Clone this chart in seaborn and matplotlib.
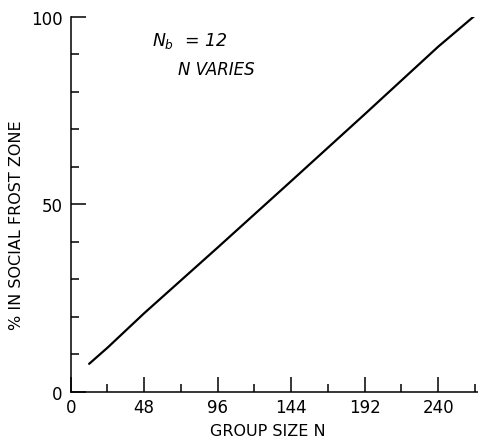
import matplotlib
matplotlib.use("Agg")
import matplotlib.pyplot as plt
import seaborn as sns
import pandas as pd
from matplotlib.ticker import MultipleLocator

# Data
group_size = [12, 24, 48, 96, 144, 192, 240, 264]
pct_frost = [7.5, 11.8, 21.0, 38.5, 56.2, 74.0, 92.0, 100.3]
x_ticks = [0, 48, 96, 144, 192, 240]
y_ticks = [0, 50, 100]

sns.set_style("ticks")
plt.rcParams['font.family'] = ['DejaVu Sans']
plt.rcParams['text.color'] = 'black'
plt.rcParams['axes.labelcolor'] = 'black'

df = pd.DataFrame({"N": group_size, "pct": pct_frost})

fig = plt.figure(figsize=(4.78, 4.39), dpi=100)
ax = fig.add_axes([0.148, 0.1048, 0.852, 0.855])

sns.lineplot(data=df, x="N", y="pct", ax=ax, color="black", linewidth=1.6)

ax.set_xlim(0, 266)
ax.set_ylim(0, 100)
ax.set_xticks(x_ticks)
ax.set_yticks(y_ticks)
ax.xaxis.set_minor_locator(MultipleLocator(24))
ax.yaxis.set_minor_locator(MultipleLocator(10))

ax.tick_params(axis="both", which="major", direction="in", length=10.5, width=1.1,
               labelsize=12, color="black", labelcolor="black")
ax.tick_params(axis="both", which="minor", direction="in", length=5.5, width=1.1,
               color="black")
ax.tick_params(axis="x", which="major", pad=4)
ax.tick_params(axis="y", which="major", pad=6)

for side in ["top", "right"]:
    ax.spines[side].set_visible(False)
for side in ["left", "bottom"]:
    ax.spines[side].set_linewidth(1.1)
    ax.spines[side].set_color("black")

ax.set_xlabel("GROUP SIZE N", fontsize=11.5, color="black")
ax.set_ylabel("% IN SOCIAL FROST ZONE", fontsize=11.5, color="black")
ax.xaxis.set_label_coords(0.485, -0.083)
ax.yaxis.set_label_coords(-0.115, 0.447)

ax.text(53, 91, r"$N_b$  = 12", fontsize=12.5, style="italic", va="bottom",
        ha="left", color="black")
ax.text(70, 86, "N VARIES", fontsize=12, style="italic", va="center",
        ha="left", color="black")

fig.savefig("out.png", dpi=100, facecolor="white")
